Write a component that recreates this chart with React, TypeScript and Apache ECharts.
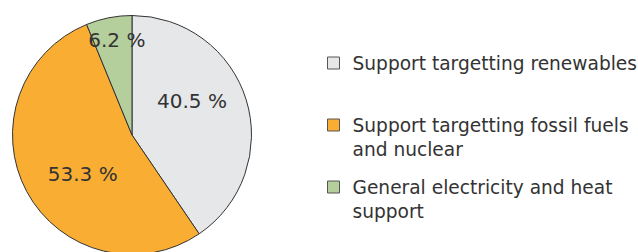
import React, { useEffect, useRef } from "react";
import * as echarts from "echarts";

const categories = [
  "Support targetting renewables",
  "Support targetting fossil fuels and nuclear",
  "General electricity and heat support",
];
const shares = [40.5, 53.3, 6.2];
const colors = ["#e6e7e8", "#f9ae33", "#b4ce9c"];
// label nudges relative to ECharts' default inside position (style only)
const labelNudge = [
  [0, -16],
  [6, 9],
  [-3, -33],
];
const legendTops = [51, 89, 151];
const legendLines = [1, 2, 2];

export default function App() {
  const ref = useRef<HTMLDivElement>(null);
  useEffect(() => {
    if (!ref.current) return;
    const chart = echarts.init(ref.current, undefined, { renderer: "svg" });
    const font = "DejaVu Sans";
    const legends = categories.map((name, i) => ({
      data: [name],
      left: 327,
      top: legendTops[i],
      padding: 0,
      orient: "vertical",
      itemWidth: 12,
      itemHeight: 12,
      icon: "rect",
      selectedMode: false,
      itemStyle: { borderColor: "#555", borderWidth: 1 },
      formatter: (n: string) => (legendLines[i] > 1 ? "\n" : "") + n,
      textStyle: {
        fontFamily: font,
        fontSize: 18.6,
        color: "#333",
        lineHeight: 24,
        width: 300,
        overflow: legendLines[i] > 1 ? "break" : "none",
        padding: [0, 0, 0, 8],
      },
    }));
    chart.setOption({
      animation: false,
      legend: legends,
      series: [
        {
          type: "pie",
          center: [132, 135],
          radius: 119.5,
          startAngle: 90,
          clockwise: true,
          data: categories.map((name, i) => ({
            name,
            value: shares[i],
            itemStyle: { color: colors[i] },
          })),
          itemStyle: { borderColor: "#333", borderWidth: 1 },
          label: {
            show: true,
            position: "inside",
            formatter: (p: any) => `${p.value} %`,
            fontFamily: font,
            fontSize: 20,
            color: "#333",
          },
          labelLine: { show: false },
          labelLayout: (params: any) => ({
            dx: labelNudge[params.dataIndex][0],
            dy: labelNudge[params.dataIndex][1],
          }),
          emphasis: { disabled: true },
        },
      ],
    });
    return () => chart.dispose();
  }, []);
  return <div ref={ref} style={{ width: 638, height: 252, position: "absolute", left: 0, top: 0 }} />;
}
